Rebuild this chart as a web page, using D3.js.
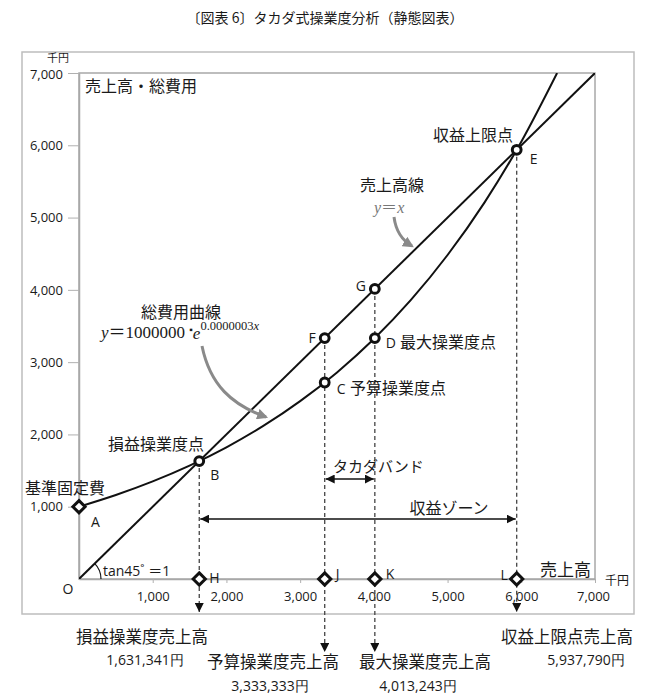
<!DOCTYPE html>
<html>
<head>
<meta charset="utf-8">
<script src="https://cdn.jsdelivr.net/npm/d3@7"></script>
<style>
  body { margin: 0; background: #fff; }
  text { font-family: "Noto Sans CJK JP", sans-serif; fill: #1a1a1a; }
  .num { font-family: "Open Sans", sans-serif; }
</style>
</head>
<body>
<svg id="chart" width="650" height="700"></svg>
<script>
// values in 千円
const costX = [0, 500, 1000, 1500, 2000, 2500, 3000, 3500, 4000, 4500, 5000, 5500, 6000, 6486];
const costY = [1000, 1162, 1350, 1568, 1822, 2117, 2460, 2858, 3320, 3857, 4482, 5207, 6050, 7000];
const salesX = [0, 7000];
const salesY = [0, 7000];

const xTicks = [1000, 2000, 3000, 4000, 5000, 6000, 7000];
const yTicks = [1000, 2000, 3000, 4000, 5000, 6000, 7000];

const circleNames = ["B", "C", "D", "E", "F", "G"];
const circleX = [1631.341, 3333.333, 4013.243, 5937.79, 3333.333, 4013.243];
const circleY = [1631.341, 2718.282, 3333.333, 5937.79, 3333.333, 4013.243];

const diamondNames = ["A", "H", "J", "K", "L"];
const diamondX = [0, 1631.341, 3333.333, 4013.243, 5937.79];
const diamondY = [1000, 0, 0, 0, 0];

const dropX = [1631.341, 3333.333, 4013.243, 5937.79];
const dropTop = [1631.341, 3333.333, 4013.243, 5937.79];
const dropTitles = ["損益操業度売上高", "予算操業度売上高", "最大操業度売上高", "収益上限点売上高"];
const dropValues = ["1,631,341円", "3,333,333円", "4,013,243円", "5,937,790円"];

const svg = d3.select("#chart");
const x = d3.scaleLinear().domain([0, 7000]).range([79, 595]);
const y = d3.scaleLinear().domain([0, 7000]).range([579, 73]);

// title
svg.append("text").attr("x", 325).attr("y", 23).attr("text-anchor", "middle")
    .style("font-size", "14px").text("〔図表 6〕タカダ式操業度分析（静態図表）");

// outer frame
svg.append("rect").attr("x", 22).attr("y", 52).attr("width", 612).attr("height", 562)
    .attr("fill", "none").attr("stroke", "#bdbdbd").attr("stroke-width", 1.5);

// plot box
svg.append("rect").attr("x", x(0)).attr("y", y(7000))
    .attr("width", x(7000) - x(0)).attr("height", y(0) - y(7000))
    .attr("fill", "none").attr("stroke", "#a8a8a8").attr("stroke-width", 1.5);

const defs = svg.append("defs");
defs.append("clipPath").attr("id", "clip").append("rect")
    .attr("x", x(0)).attr("y", y(7000))
    .attr("width", x(7000) - x(0)).attr("height", y(0) - y(7000));
defs.append("marker").attr("id", "tri").attr("viewBox", "0 0 10 10")
    .attr("refX", 10).attr("refY", 5).attr("markerWidth", 9).attr("markerHeight", 9)
    .attr("markerUnits", "userSpaceOnUse").attr("orient", "auto-start-reverse")
    .append("path").attr("d", "M0,0L10,5L0,10Z").attr("fill", "#111");
defs.append("marker").attr("id", "grey").attr("viewBox", "0 0 10 10")
    .attr("refX", 8).attr("refY", 5).attr("markerWidth", 11).attr("markerHeight", 11)
    .attr("markerUnits", "userSpaceOnUse").attr("orient", "auto")
    .append("path").attr("d", "M0,0L10,5L0,10Z").attr("fill", "#8a8a8a");

// axes
const yAxis = svg.append("g").attr("transform", `translate(${x(0)},0)`)
    .call(d3.axisLeft(y).tickValues(yTicks).tickSize(11).tickPadding(5)
        .tickSizeOuter(0).tickFormat(d3.format(",")));
const xAxis = svg.append("g").attr("transform", `translate(0,${y(0)})`)
    .call(d3.axisBottom(x).tickValues(xTicks).tickSize(4).tickPadding(9)
        .tickSizeOuter(0).tickFormat(d3.format(",")));
[xAxis, yAxis].forEach(g => {
    g.select(".domain").attr("stroke", "#a8a8a8").attr("stroke-width", 1.5);
    g.selectAll(".tick line").attr("stroke", "#b0b0b0");
    g.selectAll(".tick text").attr("class", "num").style("font-size", "13px")
        .style("fill", "#1a1a1a");
});
xAxis.selectAll(".tick text").filter(d => d === 7000).attr("dx", "-2");
yAxis.selectAll(".tick text").filter(d => d === 7000).attr("dy", "0.45em");

// units
svg.append("text").attr("x", 58).attr("y", 62).attr("text-anchor", "middle")
    .style("font-size", "11px").text("千円");
svg.append("text").attr("x", 617).attr("y", 585).attr("text-anchor", "middle")
    .style("font-size", "12px").text("千円");

// dashed drop lines
const drops = dropX.map((v, i) => ({ x: v, top: dropTop[i], end: [612, 652, 652, 612][i] }));
svg.selectAll("line.drop").data(drops).enter().append("line").attr("class", "drop")
    .attr("x1", d => x(d.x)).attr("x2", d => x(d.x))
    .attr("y1", d => y(d.top)).attr("y2", d => d.end)
    .attr("stroke", "#444").attr("stroke-width", 1.3).attr("stroke-dasharray", "4,3")
    .attr("marker-end", "url(#tri)");

// sales line and cost curve
const line = d3.line().x(d => x(d[0])).y(d => y(d[1]));
const plot = svg.append("g").attr("clip-path", "url(#clip)");
plot.append("path").datum(salesX.map((v, i) => [v, salesY[i]]))
    .attr("d", line).attr("fill", "none").attr("stroke", "#111").attr("stroke-width", 2);
plot.append("path").datum(costX.map((v, i) => [v, costY[i]]))
    .attr("d", line.curve(d3.curveMonotoneX)).attr("fill", "none")
    .attr("stroke", "#111").attr("stroke-width", 2);

// band arrows
const bands = [
    { x1: 3333.333, x2: 4013.243, py: 479 },
    { x1: 1631.341, x2: 5937.79, py: 519 }
];
svg.selectAll("line.band").data(bands).enter().append("line").attr("class", "band")
    .attr("x1", d => x(d.x1) + 1).attr("x2", d => x(d.x2) - 1)
    .attr("y1", d => d.py).attr("y2", d => d.py)
    .attr("stroke", "#111").attr("stroke-width", 1.5)
    .attr("marker-start", "url(#tri)").attr("marker-end", "url(#tri)");

// tan45 arc
const arc = d3.arc().innerRadius(22).outerRadius(22).startAngle(Math.PI / 4).endAngle(Math.PI / 2);
svg.append("path").attr("transform", `translate(${x(0)},${y(0)})`).attr("d", arc())
    .attr("fill", "none").attr("stroke", "#111").attr("stroke-width", 1.2);

// markers
svg.selectAll("path.diamond").data(diamondNames).enter().append("path").attr("class", "diamond")
    .attr("d", d3.symbol(d3.symbolDiamond2, 95)())
    .attr("transform", (d, i) => `translate(${x(diamondX[i])},${y(diamondY[i])})`)
    .attr("fill", "#fff").attr("stroke", "#111").attr("stroke-width", 3);
svg.selectAll("circle.pt").data(circleNames).enter().append("circle").attr("class", "pt")
    .attr("cx", (d, i) => x(circleX[i])).attr("cy", (d, i) => y(circleY[i]))
    .attr("r", 4.4).attr("fill", "#fff").attr("stroke", "#111").attr("stroke-width", 3);

// point letters
const letterPos = {
    A: [12, 15, "start"], B: [11, 14, "start"], C: [12, 7, "start"], D: [11, 5, "start"],
    E: [13, 9, "start"], F: [-9, 0, "end"], G: [-9, -3, "end"],
    H: [10, -1, "start"], J: [11, -5, "start"], K: [11, -5, "start"], L: [-9, -4, "end"]
};
const allPts = circleNames.map((n, i) => [n, circleX[i], circleY[i]])
    .concat(diamondNames.map((n, i) => [n, diamondX[i], diamondY[i]]));
svg.selectAll("text.letter").data(allPts).enter().append("text").attr("class", "letter num")
    .attr("x", d => x(d[1]) + letterPos[d[0]][0])
    .attr("y", d => y(d[2]) + letterPos[d[0]][1])
    .attr("dy", "0.35em").attr("text-anchor", d => letterPos[d[0]][2])
    .style("font-size", "14px").text(d => d[0]);
svg.append("text").attr("class", "num").attr("x", 68).attr("y", 589).attr("dy", "0.35em")
    .attr("text-anchor", "middle").style("font-size", "14px").text("O");

// labels
const labels = [
    ["売上高・総費用", 85, 86, "start", 16],
    ["収益上限点", 513, 135, "end", 16],
    ["売上高線", 392, 185, "middle", 16],
    ["総費用曲線", 181, 312, "middle", 16],
    ["予算操業度点", 350, 388, "start", 16],
    ["最大操業度点", 400, 342, "start", 16],
    ["損益操業度点", 204, 444, "end", 16],
    ["タカダバンド", 333, 467, "start", 15],
    ["収益ゾーン", 449, 508, "middle", 16],
    ["基準固定費", 65, 488, "middle", 16],
    ["売上高", 591, 570, "end", 17]
];
svg.selectAll("text.lbl").data(labels).enter().append("text").attr("class", "lbl")
    .attr("x", d => d[1]).attr("y", d => d[2]).attr("dy", "0.35em")
    .attr("text-anchor", d => d[3]).style("font-size", d => d[4] + "px").text(d => d[0]);

svg.append("text").attr("x", 103).attr("y", 571).attr("dy", "0.35em")
    .style("font-size", "14px")
    .call(t => {
        t.append("tspan").attr("class", "num").text("tan45˚ ");
        t.append("tspan").text("＝");
        t.append("tspan").attr("class", "num").text("1");
    });

// formulas
const serif = "'Liberation Serif', 'DejaVu Serif', serif";
svg.append("text").attr("x", 374).attr("y", 213).style("font-family", serif)
    .style("font-size", "16px").style("fill", "#777")
    .call(t => {
        t.append("tspan").style("font-style", "italic").text("y");
        t.append("tspan").style("font-family", "'Noto Sans CJK JP'").text("＝");
        t.append("tspan").style("font-style", "italic").text("x");
    });
svg.append("text").attr("x", 101).attr("y", 338).style("font-family", serif)
    .style("font-size", "17px")
    .call(t => {
        t.append("tspan").style("font-style", "italic").text("y");
        t.append("tspan").style("font-family", "'Noto Sans CJK JP'").text("＝");
        t.append("tspan").text("1000000 ");
        t.append("tspan").attr("dy", -5).style("font-size", "10px").text("▪");
        t.append("tspan").attr("dy", 6).style("font-style", "italic").text("e");
        t.append("tspan").attr("dy", -9).style("font-size", "12.5px").text("0.0000003");
        t.append("tspan").style("font-size", "12.5px").style("font-style", "italic").text("x");
    });

// grey pointer arrows
svg.append("path").attr("d", "M394,217 C396,232 402,240 412,246")
    .attr("fill", "none").attr("stroke", "#8a8a8a").attr("stroke-width", 3)
    .attr("marker-end", "url(#grey)");
svg.append("path").attr("d", "M202,346 C210,385 232,405 266,417")
    .attr("fill", "none").attr("stroke", "#8a8a8a").attr("stroke-width", 3)
    .attr("marker-end", "url(#grey)");

// labels under the drop arrows
const dropLayout = [[142, 637, 145, 660], [273, 662, 270, 686], [425, 662, 418, 686], [567, 637, 586, 660]];
dropTitles.forEach((t, i) => {
    const p = dropLayout[i];
    svg.append("text").attr("x", p[0]).attr("y", p[1]).attr("dy", "0.35em")
        .attr("text-anchor", "middle").style("font-size", "16.5px").text(t);
    svg.append("text").attr("class", "num").attr("x", p[2]).attr("y", p[3]).attr("dy", "0.35em")
        .attr("text-anchor", "middle").style("font-size", "14px").text(dropValues[i]);
});
</script>
</body>
</html>
